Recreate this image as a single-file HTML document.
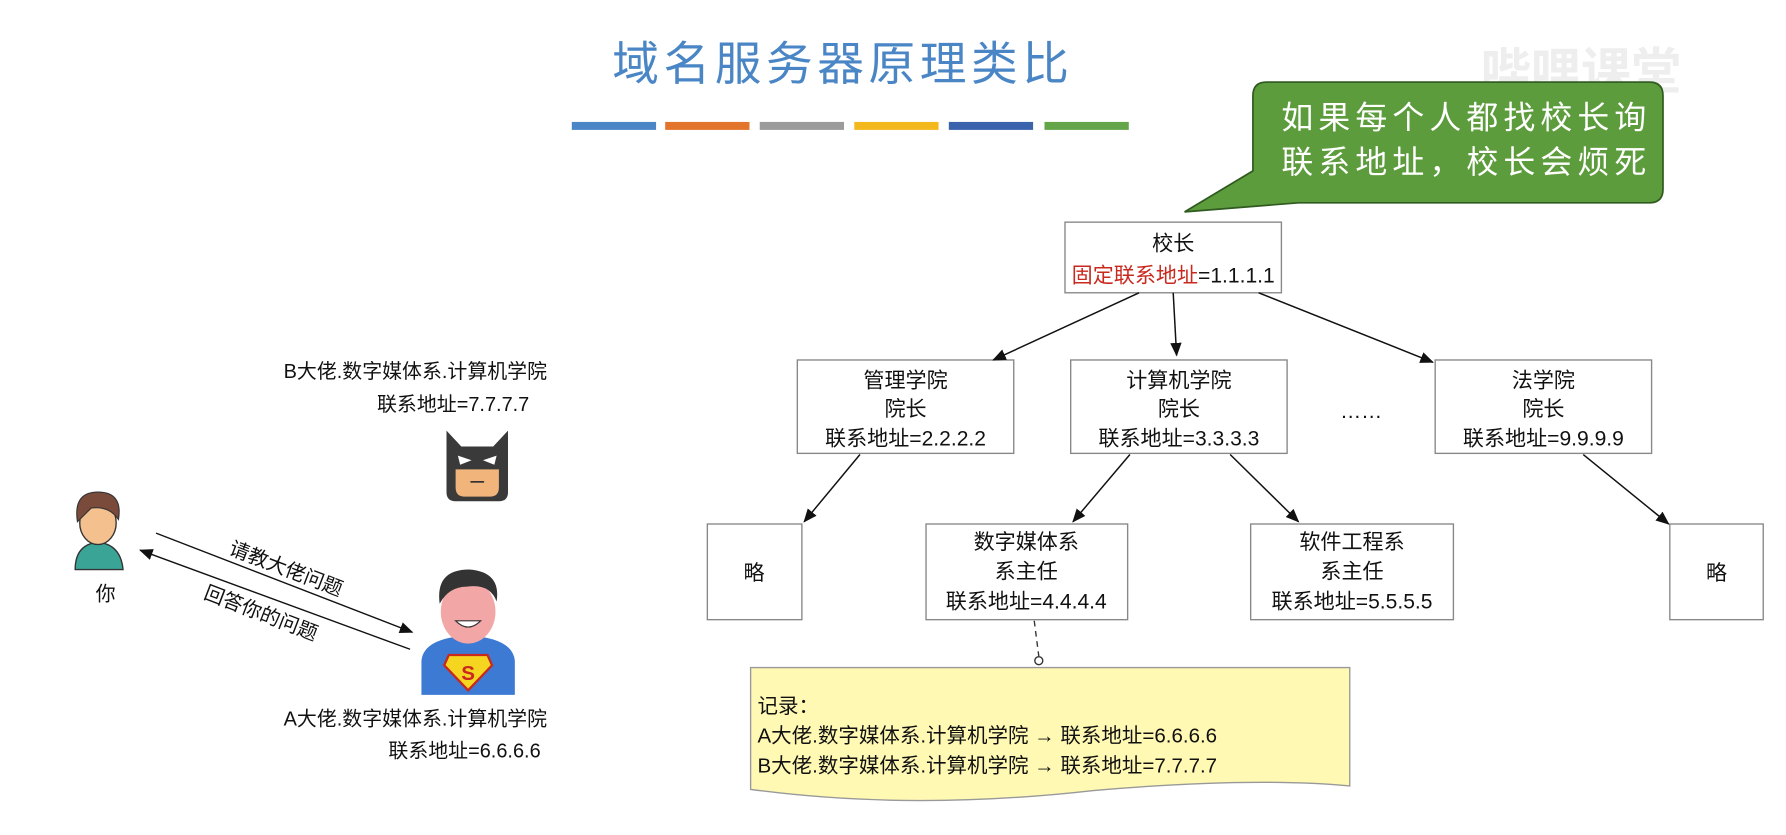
<!DOCTYPE html>
<html><head><meta charset="utf-8"><style>
html,body{margin:0;padding:0;background:#fff;}
svg{display:block;}
text{font-family:"Liberation Sans","Noto Sans CJK SC",sans-serif;}
</style></head><body>
<svg width="1786" height="835" viewBox="0 0 1568 733" xmlns="http://www.w3.org/2000/svg">
<defs>
<marker id="ar" markerWidth="12" markerHeight="10" refX="11" refY="5" orient="auto" markerUnits="userSpaceOnUse">
<path d="M0,0 L12,5 L0,10 z" fill="#111"/></marker>
</defs>
<rect width="1568" height="733" fill="#fff"/>
<text x="740" y="70" font-size="41" fill="#4a86c5" text-anchor="middle" letter-spacing="4">域名服务器原理类比</text>
<rect x="502" y="107" width="74" height="7" fill="#4a86c5"/>
<rect x="584" y="107" width="74" height="7" fill="#e2742c"/>
<rect x="667" y="107" width="74" height="7" fill="#9b9b9b"/>
<rect x="750" y="107" width="74" height="7" fill="#f3b81c"/>
<rect x="833" y="107" width="74" height="7" fill="#3a62ad"/>
<rect x="917" y="107" width="74" height="7" fill="#63a548"/>
<text x="1300" y="78" font-size="44" fill="#eeeeee" font-weight="bold">哔哩课堂</text>
<path d="M1112,72 H1448 Q1460,72 1460,84 V166 Q1460,178 1448,178 H1140 L1040,186 L1100,150 V84 Q1100,72 1112,72 Z" fill="#5d9c3c" stroke="#2f5a20" stroke-width="1.5"/>
<text x="1125" y="113" font-size="28" fill="#fff" letter-spacing="4.5">如果每个人都找校长询</text>
<text x="1125" y="152" font-size="28" fill="#fff" letter-spacing="4.5">联系地址，校长会烦死</text>
<g stroke="#888" stroke-width="1.2" fill="#fff">
<rect x="935" y="195" width="190" height="62"/>
<rect x="700" y="316" width="190" height="82"/>
<rect x="940" y="316" width="190" height="82"/>
<rect x="1260" y="316" width="190" height="82"/>
<rect x="621" y="460" width="83" height="84"/>
<rect x="813" y="460" width="177" height="84"/>
<rect x="1098" y="460" width="178" height="84"/>
<rect x="1466" y="460" width="82" height="84"/>
</g>
<g font-size="18.5" fill="#111" text-anchor="middle">
<text x="1030" y="220">校长</text>
<text x="1030" y="248"><tspan fill="#c8281e">固定联系地址</tspan>=1.1.1.1</text>
<text x="795" y="340">管理学院</text><text x="795" y="365">院长</text><text x="795" y="391">联系地址=2.2.2.2</text>
<text x="1035" y="340">计算机学院</text><text x="1035" y="365">院长</text><text x="1035" y="391">联系地址=3.3.3.3</text>
<text x="1355" y="340">法学院</text><text x="1355" y="365">院长</text><text x="1355" y="391">联系地址=9.9.9.9</text>
<text x="662" y="509">略</text>
<text x="1507" y="509">略</text>
<text x="901" y="482">数字媒体系</text><text x="901" y="508">系主任</text><text x="901" y="534">联系地址=4.4.4.4</text>
<text x="1187" y="482">软件工程系</text><text x="1187" y="508">系主任</text><text x="1187" y="534">联系地址=5.5.5.5</text>
<text x="1195" y="367">……</text>
</g>
<g stroke="#111" stroke-width="1.3" marker-end="url(#ar)">
<line x1="1000" y1="257" x2="872" y2="316"/>
<line x1="1030" y1="257" x2="1033" y2="312"/>
<line x1="1105" y1="257" x2="1258" y2="318"/>
<line x1="755" y1="399" x2="706" y2="458"/>
<line x1="992" y1="399" x2="942" y2="458"/>
<line x1="1080" y1="399" x2="1140" y2="458"/>
<line x1="1390" y1="399" x2="1465" y2="460"/>
</g>
<line x1="908" y1="545" x2="912" y2="576" stroke="#333" stroke-width="1.2" stroke-dasharray="5,4"/>
<circle cx="912" cy="580" r="3.5" fill="#fff" stroke="#333" stroke-width="1.2"/>
<path d="M659,586 H1185 V690 Q1100,682 960,694 Q800,712 659,693 Z" fill="#fff9b3" stroke="#999" stroke-width="1.2"/>
<g font-size="18" fill="#111">
<text x="665" y="626">记录：</text>
<text x="665" y="652">A大佬.数字媒体系.计算机学院 → 联系地址=6.6.6.6</text>
<text x="665" y="678">B大佬.数字媒体系.计算机学院 → 联系地址=7.7.7.7</text>
</g>
<g font-size="17.5" fill="#111">
<text x="249" y="332">B大佬.数字媒体系.计算机学院</text>
<text x="331" y="361">联系地址=7.7.7.7</text>
<text x="249" y="637">A大佬.数字媒体系.计算机学院</text>
<text x="341" y="665">联系地址=6.6.6.6</text>
<text x="84" y="527">你</text>
</g>
<path d="M392,378 L405,392 H433 L446,378 V432 Q446,440 438,440 H400 Q392,440 392,432 Z" fill="#3a3a3a"/>
<path d="M400,412 H438 V428 Q438,436 430,436 H408 Q400,436 400,428 Z" fill="#f1b57c"/>
<path d="M402,400 L414,404 L404,408 Z M436,400 L424,404 L434,408 Z" fill="#fff"/>
<line x1="413" y1="423" x2="425" y2="423" stroke="#333" stroke-width="1.5"/>
<path d="M66,500 Q66,478 86,476 Q106,478 108,500 Z" fill="#3aa597" stroke="#333" stroke-width="1.2"/>
<ellipse cx="86" cy="459" rx="16" ry="19" fill="#f3c08e" stroke="#333" stroke-width="1.2"/>
<path d="M68,458 Q64,432 86,432 Q108,432 104,456 Q96,444 80,446 Q74,452 68,458 Z" fill="#7a4a3a" stroke="#333" stroke-width="1"/>
<line x1="137" y1="468" x2="362" y2="555" stroke="#111" stroke-width="1.2" marker-end="url(#ar)"/>
<line x1="360" y1="570" x2="123" y2="483" stroke="#111" stroke-width="1.2" marker-end="url(#ar)"/>
<text x="200" y="486" font-size="17.5" fill="#111" transform="rotate(21 200 486)">请教大佬问题</text>
<text x="178" y="525" font-size="17.5" fill="#111" transform="rotate(21 178 525)">回答你的问题</text>
<path d="M370,610 V580 Q372,560 411,558 Q450,560 452,580 V610 Z" fill="#3c7ad3"/>
<ellipse cx="411" cy="537" rx="24" ry="28" fill="#f2a6a6"/>
<path d="M386,530 Q382,500 412,500 Q440,502 436,528 Q430,512 410,515 Q394,515 386,530 Z" fill="#333"/>
<path d="M400,545 Q411,556 422,545 Z" fill="#fff" stroke="#333" stroke-width="1"/>
<path d="M394,575 H428 L432,584 L411,606 L390,584 Z" fill="#f5d520" stroke="#c8281e" stroke-width="2"/>
<text x="411" y="597" font-size="18" fill="#c8281e" font-weight="bold" text-anchor="middle">S</text>
</svg>
</body></html>
